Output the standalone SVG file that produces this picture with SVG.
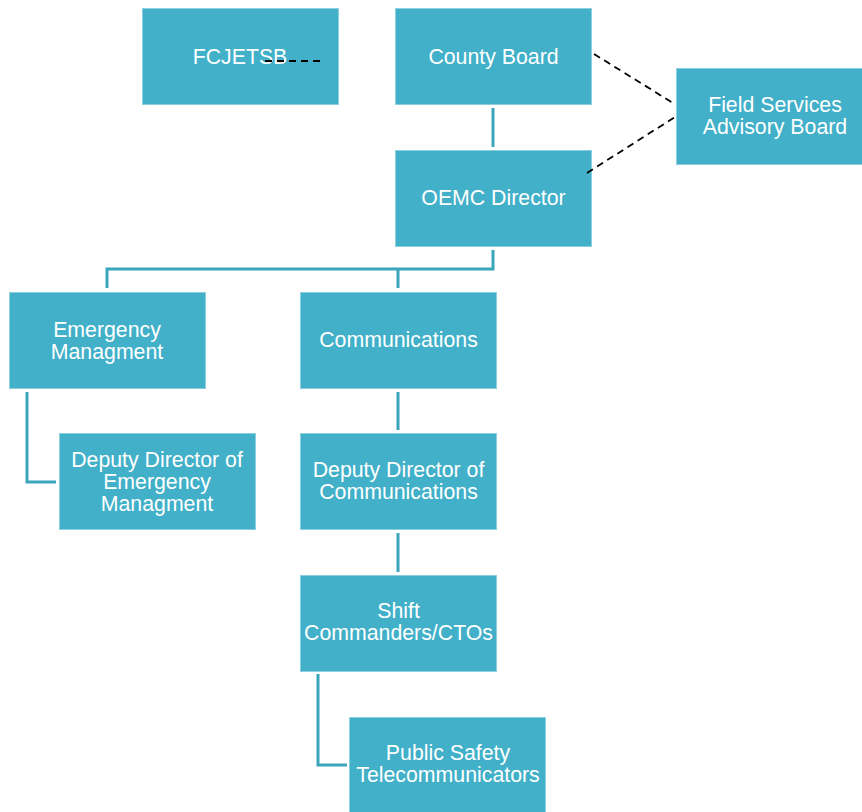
<svg xmlns="http://www.w3.org/2000/svg" width="862" height="812" viewBox="0 0 862 812">
<style>
.box{fill:#41B0C8;stroke:#8AD0DF;stroke-width:1}
.t{fill:#FFFFFF;font-family:"Liberation Sans",Arial,sans-serif;font-size:21.3px;text-anchor:middle}
.c{fill:none;stroke:#3AA5BB;stroke-width:3}
.d{fill:none;stroke:#000000;stroke-width:1.8;stroke-dasharray:7,5}
</style>
<rect width="862" height="812" fill="#FFFFFF"/>
<g id="n-fcjetsb"><rect class="box" x="142.5" y="8.5" width="196" height="96"/><text class="t" x="240" y="64">FCJETSB</text></g>
<g id="n-county"><rect class="box" x="395.5" y="8.5" width="196" height="96"/><text class="t" x="493.5" y="64">County Board</text></g>
<g id="n-fsab"><rect class="box" x="676.5" y="68.5" width="196" height="96"/><text class="t" x="775" y="112">Field Services</text><text class="t" x="775" y="134">Advisory Board</text></g>
<g id="n-oemc"><rect class="box" x="395.5" y="150.5" width="196" height="96"/><text class="t" x="493.5" y="205">OEMC Director</text></g>
<g id="n-em"><rect class="box" x="9.5" y="292.5" width="196" height="96"/><text class="t" x="107" y="337">Emergency</text><text class="t" x="107" y="359">Managment</text></g>
<g id="n-comm"><rect class="box" x="300.5" y="292.5" width="196" height="96"/><text class="t" x="398.5" y="347">Communications</text></g>
<g id="n-ddem"><rect class="box" x="59.5" y="433.5" width="196" height="96"/><text class="t" x="157" y="467">Deputy Director of</text><text class="t" x="157" y="489">Emergency</text><text class="t" x="157" y="511">Managment</text></g>
<g id="n-ddcomm"><rect class="box" x="300.5" y="433.5" width="196" height="96"/><text class="t" x="398.5" y="477">Deputy Director of</text><text class="t" x="398.5" y="499">Communications</text></g>
<g id="n-shift"><rect class="box" x="300.5" y="575.5" width="196" height="96"/><text class="t" x="398.5" y="618">Shift</text><text class="t" x="398.5" y="640">Commanders/CTOs</text></g>
<g id="n-pst"><rect class="box" x="349.5" y="717.5" width="196" height="96"/><text class="t" x="448" y="760">Public Safety</text><text class="t" x="448" y="782">Telecommunicators</text></g>
<g id="connectors">
<path class="c" d="M493,108 V147"/>
<path class="c" d="M493,250 V269 H107 V288"/>
<path class="c" d="M398,269 V288"/>
<path class="c" d="M27,392 V482 H56"/>
<path class="c" d="M398,392 V430"/>
<path class="c" d="M398,533 V572"/>
<path class="c" d="M318,674 V765 H347"/>
<path class="d" d="M265,61 H325"/>
<path class="d" d="M594,54 L673,103"/>
<path class="d" d="M587,173 L675,117"/>
</g>
</svg>
